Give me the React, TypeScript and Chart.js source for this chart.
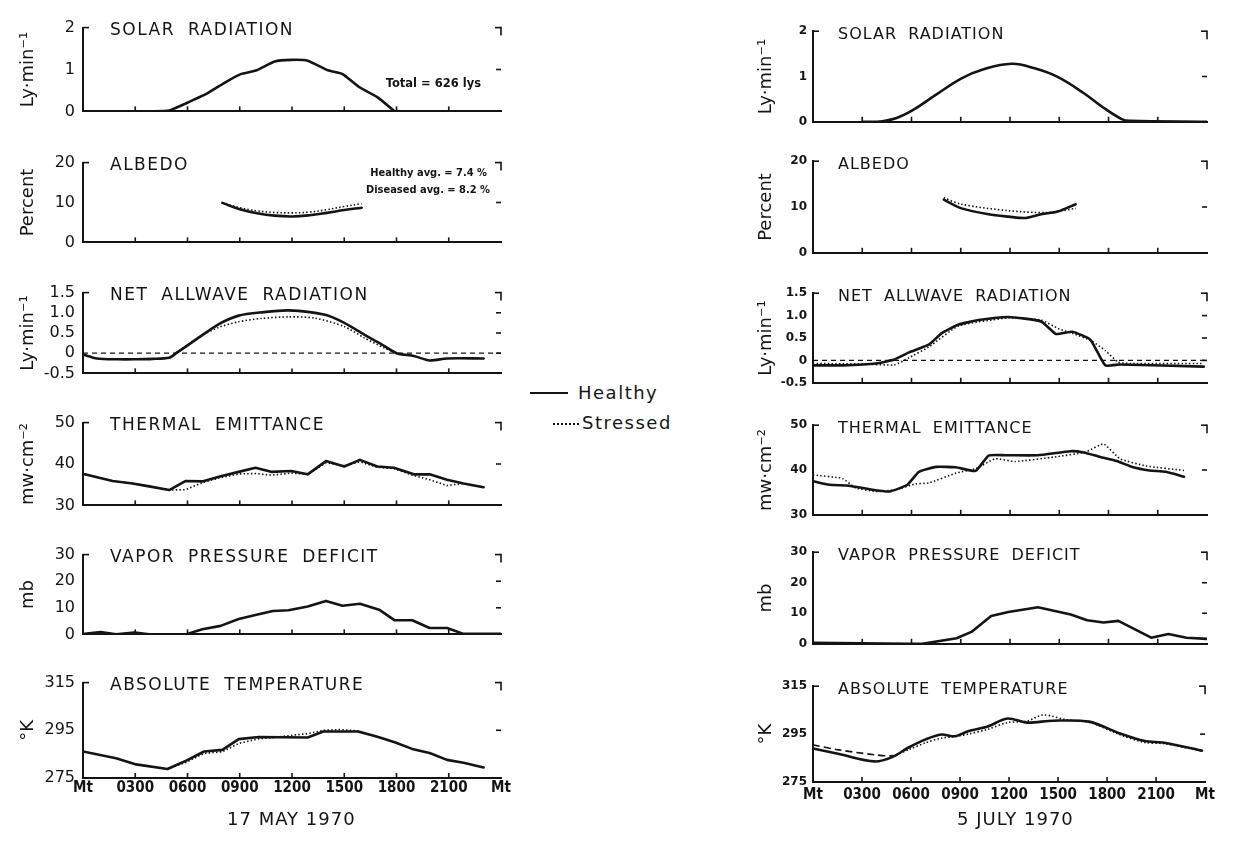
import React, { useEffect, useRef } from "react";
import { Chart, registerables } from "chart.js";
Chart.register(...registerables);

// ---------- axis tick labels ----------
const X_LABELS = ["Mt", "0300", "0600", "0900", "1200", "1500", "1800", "2100", "Mt"];

// ---------- 17 MAY 1970 (left column) ----------
const L_SOLAR_H = [3.8, 4.95, 5.9, 7.05, 8.2, 9.05, 9.97, 11.0, 11.95, 12.9, 14.06, 14.9, 15.9, 16.9, 17.9];
const L_SOLAR = [0, 0.02, 0.19, 0.41, 0.7, 0.89, 0.98, 1.19, 1.23, 1.21, 0.98, 0.89, 0.57, 0.34, 0];

const L_ALB_H = [8, 9, 10, 11, 12, 13, 14, 15, 16];
const L_ALB_HEALTHY = [9.9, 8.3, 7.3, 6.7, 6.5, 6.8, 7.4, 8.1, 8.7];
const L_ALB_STRESSED = [10.0, 8.7, 7.9, 7.5, 7.4, 7.6, 8.2, 9.0, 9.7];

const L_NET_H = [0, 0.8, 2, 3, 4, 4.95, 5.35, 6.66, 7.8, 8.94, 10.25, 11.8, 13.9, 15.0, 16.15, 17.1, 18.0, 19.0, 19.9, 20.9, 23.0];
const L_NET_HEALTHY = [-0.03, -0.13, -0.15, -0.15, -0.14, -0.11, 0, 0.39, 0.72, 0.93, 1.01, 1.06, 0.95, 0.75, 0.46, 0.23, 0, -0.07, -0.18, -0.13, -0.13];
const L_NET_S_H = [5.35, 6.66, 7.8, 8.94, 10.25, 11.8, 13.3, 15.0, 16.15, 17.3, 18.0];
const L_NET_STRESSED = [0, 0.4, 0.64, 0.78, 0.86, 0.9, 0.87, 0.66, 0.38, 0.13, 0];

const L_TE_H = [0.1, 1.7, 2.85, 3.8, 4.95, 5.9, 6.85, 7.8, 8.94, 9.9, 10.8, 11.95, 12.9, 13.95, 15.0, 15.9, 16.9, 17.85, 19.0, 19.9, 20.9, 21.85, 23.0];
const L_TE_HEALTHY = [37.5, 35.9, 35.3, 34.6, 33.7, 35.9, 35.8, 36.9, 38.1, 39.1, 38.1, 38.3, 37.5, 40.7, 39.4, 41.0, 39.4, 39.1, 37.5, 37.5, 36.2, 35.3, 34.4];
const L_TE_STRESSED = [37.5, 35.9, 35.3, 34.6, 33.7, 33.8, 35.5, 36.6, 37.6, 37.7, 37.3, 37.8, 37.5, 40.3, 39.6, 40.5, 39.2, 38.9, 37.2, 36.2, 34.8, 35.3, 34.4];

const L_VPD_H = [0.1, 1.0, 1.9, 2.96, 3.8, 5.9, 6.85, 7.9, 8.94, 9.9, 10.9, 11.8, 12.9, 13.95, 14.9, 15.9, 17.0, 17.9, 18.9, 19.9, 20.9, 21.85, 24];
const L_VPD = [0.2, 0.9, 0, 0.7, 0, 0, 1.9, 3.2, 5.8, 7.3, 8.8, 9.1, 10.5, 12.6, 10.8, 11.5, 9.3, 5.3, 5.3, 2.4, 2.4, 0.2, 0.2];

const L_T_H = [0, 1.9, 3.05, 4.85, 5.9, 6.95, 8.0, 8.94, 10.1, 12.9, 13.8, 15.8, 16.9, 17.9, 18.9, 19.9, 20.9, 21.85, 23.0];
const L_T_HEALTHY = [286.1, 283.3, 280.7, 278.8, 282.2, 286.1, 286.8, 291.3, 292.2, 292.0, 294.5, 294.5, 292.3, 290.0, 287.2, 285.5, 282.6, 281.4, 279.4];
const L_T_S_H = [4.85, 5.9, 6.95, 8.0, 8.94, 10.1, 11.0, 12.0, 12.9, 13.8, 14.8, 15.8, 16.9];
const L_T_STRESSED = [278.8, 281.5, 285.3, 286.0, 289.5, 291.5, 292.0, 292.9, 293.6, 295.0, 295.3, 294.8, 292.4];

// ---------- 5 JULY 1970 (right column) ----------
const R_SOLAR_H = [3.0, 3.9, 5.05, 6.05, 7.5, 9.05, 10.3, 12.1, 13.5, 14.9, 16.5, 17.7, 18.8, 19.3, 24];
const R_SOLAR = [0, 0, 0.08, 0.25, 0.6, 0.96, 1.15, 1.28, 1.18, 0.99, 0.63, 0.31, 0.06, 0.02, 0];

const R_ALB_H = [7.97, 9.05, 10.7, 11.9, 12.97, 13.9, 14.9, 16.0];
const R_ALB_HEALTHY = [11.6, 9.7, 8.4, 7.9, 7.6, 8.4, 9.0, 10.6];
const R_ALB_S_H = [7.97, 9.05, 11.9, 14.3, 16.0];
const R_ALB_STRESSED = [12.0, 10.6, 9.2, 8.8, 9.7];

const R_NET_H = [0, 1.8, 3.85, 4.95, 5.85, 7.05, 7.85, 8.87, 10.1, 11.9, 13.9, 14.8, 15.8, 16.9, 17.8, 18.7, 23.8];
const R_NET_HEALTHY = [-0.11, -0.11, -0.07, 0.02, 0.18, 0.35, 0.61, 0.8, 0.9, 0.97, 0.87, 0.59, 0.64, 0.46, -0.11, -0.09, -0.14];
const R_NET_S_H = [0, 3.0, 4.95, 5.85, 7.05, 8.87, 11.9, 13.9, 15.0, 15.8, 16.9, 17.8, 18.6, 19.3, 23.8];
const R_NET_STRESSED = [-0.07, -0.08, -0.1, 0.06, 0.3, 0.77, 0.95, 0.9, 0.7, 0.6, 0.45, 0.22, -0.04, -0.07, -0.07];

const R_TE_H = [0, 1.0, 2.2, 3.45, 4.65, 5.75, 6.45, 7.5, 8.7, 9.9, 10.7, 11.7, 13.7, 15.7, 16.5, 17.5, 18.5, 19.5, 20.5, 21.5, 22.6];
const R_TE_HEALTHY = [37.5, 36.7, 36.5, 35.7, 35.2, 36.7, 39.6, 40.7, 40.6, 39.8, 43.2, 43.3, 43.3, 44.2, 43.9, 42.9, 42.0, 40.6, 39.9, 39.6, 38.5];
const R_TE_S_H = [0, 1.8, 2.6, 3.85, 5.05, 6.25, 7.05, 8.7, 9.9, 11.1, 12.3, 14.7, 16.6, 17.7, 18.7, 20.3, 22.6];
const R_TE_STRESSED = [38.9, 38.1, 36.0, 35.2, 35.6, 36.9, 37.1, 39.3, 40.3, 42.5, 41.9, 42.9, 44.0, 45.8, 42.5, 40.9, 39.9];

const R_VPD_H = [0, 5.9, 6.65, 8.75, 9.65, 10.85, 11.9, 13.7, 15.7, 16.7, 17.7, 18.6, 20.6, 21.65, 22.75, 24];
const R_VPD = [0.3, 0, 0, 1.8, 3.9, 9.1, 10.4, 12.0, 9.6, 7.7, 7.0, 7.5, 2.0, 3.2, 2.0, 1.6];

const R_T_H = [0, 1.6, 3.75, 4.85, 5.85, 6.9, 7.85, 8.7, 9.5, 10.7, 11.9, 13.1, 14.7, 16.9, 18.7, 20.3, 21.5, 23.8];
const R_T_HEALTHY = [289.0, 286.7, 283.6, 285.4, 289.4, 292.8, 294.8, 294.1, 296.2, 298.2, 301.5, 299.8, 300.6, 300.2, 295.5, 292.1, 291.4, 288.1];
const R_T_S_H = [0, 1.6, 3.75, 4.85, 5.85, 6.9, 7.85, 8.7, 9.5, 10.7, 11.9, 13.1, 14.1, 15.5, 16.9, 18.7, 20.3, 21.5, 23.8];
const R_T_STRESSED = [290.5, 288.4, 286.4, 286.0, 288.5, 291.4, 293.3, 294.0, 295.0, 297.0, 299.8, 300.4, 303.0, 301.0, 300.0, 295.0, 291.5, 291.0, 288.0];

const ZERO_H = [0, 24];
const ZERO_V = [0, 0];

// ---------- panel definitions ----------
type Kind = "healthy" | "stressed" | "zero";
type Series = { h: number[]; v: number[]; kind: Kind };
type Panel = {
  col: "L" | "R";
  title: string;
  unit: string;
  top: number;
  height: number;
  min: number;
  max: number;
  step: number;
  series: Series[];
  xLabels?: boolean;
  tension?: number;
  fmt?: (v: number) => string;
  earlyDash?: boolean;
};

const netFmt = (v: number) => (Math.abs(v) < 1e-9 ? "0" : v.toFixed(1));

const PANELS: Panel[] = [
  { col: "L", title: "SOLAR RADIATION", unit: "Ly·min⁻¹", top: 20, height: 105, min: 0, max: 2, step: 1, tension: 0.15,
    series: [{ h: L_SOLAR_H, v: L_SOLAR, kind: "healthy" }] },
  { col: "L", title: "ALBEDO", unit: "Percent", top: 155, height: 101, min: 0, max: 20, step: 10, tension: 0.4,
    series: [{ h: L_ALB_H, v: L_ALB_HEALTHY, kind: "healthy" }, { h: L_ALB_H, v: L_ALB_STRESSED, kind: "stressed" }] },
  { col: "L", title: "NET ALLWAVE RADIATION", unit: "Ly·min⁻¹", top: 285, height: 102, min: -0.5, max: 1.5, step: 0.5, tension: 0.25, fmt: netFmt,
    series: [{ h: ZERO_H, v: ZERO_V, kind: "zero" }, { h: L_NET_H, v: L_NET_HEALTHY, kind: "healthy" }, { h: L_NET_S_H, v: L_NET_STRESSED, kind: "stressed" }] },
  { col: "L", title: "THERMAL EMITTANCE", unit: "mw·cm⁻²", top: 415, height: 104, min: 30, max: 50, step: 10,
    series: [{ h: L_TE_H, v: L_TE_HEALTHY, kind: "healthy" }, { h: L_TE_H, v: L_TE_STRESSED, kind: "stressed" }] },
  { col: "L", title: "VAPOR PRESSURE DEFICIT", unit: "mb", top: 547, height: 101, min: 0, max: 30, step: 10,
    series: [{ h: L_VPD_H, v: L_VPD, kind: "healthy" }] },
  { col: "L", title: "ABSOLUTE TEMPERATURE", unit: "°K", top: 675, height: 103, min: 275, max: 315, step: 20, xLabels: true,
    series: [{ h: L_T_H, v: L_T_HEALTHY, kind: "healthy" }, { h: L_T_S_H, v: L_T_STRESSED, kind: "stressed" }] },

  { col: "R", title: "SOLAR RADIATION", unit: "Ly·min⁻¹", top: 28, height: 103, min: 0, max: 2, step: 1, tension: 0.4,
    series: [{ h: R_SOLAR_H, v: R_SOLAR, kind: "healthy" }] },
  { col: "R", title: "ALBEDO", unit: "Percent", top: 158, height: 104, min: 0, max: 20, step: 10, tension: 0.3,
    series: [{ h: R_ALB_H, v: R_ALB_HEALTHY, kind: "healthy" }, { h: R_ALB_S_H, v: R_ALB_STRESSED, kind: "stressed" }] },
  { col: "R", title: "NET ALLWAVE RADIATION", unit: "Ly·min⁻¹", top: 290, height: 102, min: -0.5, max: 1.5, step: 0.5, tension: 0.15, fmt: netFmt,
    series: [{ h: ZERO_H, v: ZERO_V, kind: "zero" }, { h: R_NET_H, v: R_NET_HEALTHY, kind: "healthy" }, { h: R_NET_S_H, v: R_NET_STRESSED, kind: "stressed" }] },
  { col: "R", title: "THERMAL EMITTANCE", unit: "mw·cm⁻²", top: 422, height: 102, min: 30, max: 50, step: 10, tension: 0.15,
    series: [{ h: R_TE_H, v: R_TE_HEALTHY, kind: "healthy" }, { h: R_TE_S_H, v: R_TE_STRESSED, kind: "stressed" }] },
  { col: "R", title: "VAPOR PRESSURE DEFICIT", unit: "mb", top: 549, height: 104, min: 0, max: 30, step: 10,
    series: [{ h: R_VPD_H, v: R_VPD, kind: "healthy" }] },
  { col: "R", title: "ABSOLUTE TEMPERATURE", unit: "°K", top: 683, height: 99, min: 275, max: 315, step: 20, xLabels: true, tension: 0.3, earlyDash: true,
    series: [{ h: R_T_H, v: R_T_HEALTHY, kind: "healthy" }, { h: R_T_S_H, v: R_T_STRESSED, kind: "stressed" }] },
];

const COLS = {
  L: { left: 83, width: 418, tickFont: { family: "DejaVu Sans", size: 16, weight: "normal" as const }, tickPad: 8, titlePad: 10,
       titleDx: 27, titleDy: 1, titleSize: 17, titleLS: 1.5, titleWS: 6 },
  R: { left: 813, width: 394, tickFont: { family: "DejaVu Sans", size: 12, weight: "bold" as const }, tickPad: 6, titlePad: 18,
       titleDx: 25, titleDy: -2, titleSize: 16, titleLS: 1, titleWS: 5 },
};

const LW = 75;
const PT = 10;
const PR = 12;
const INK = "#141414";

const marksPlugin = {
  id: "frameMarks",
  afterDraw(chart: any) {
    const { ctx, chartArea } = chart;
    const { left, right, top, bottom } = chartArea;
    const x = chart.scales.x;
    const y = chart.scales.y;
    ctx.save();
    ctx.strokeStyle = INK;
    ctx.lineWidth = 1.6;
    const line = (a: number, b: number, c: number, d: number) => {
      ctx.beginPath();
      ctx.moveTo(a, b);
      ctx.lineTo(c, d);
      ctx.stroke();
    };
    for (let h = 3; h < 24; h += 3) {
      const px = x.getPixelForValue(h);
      line(px, bottom, px, bottom - 5);
    }
    line(left, top, left + 6, top);
    line(right, top, right - 6, top);
    line(right, top - 0.8, right, top + 8);
    y.ticks.forEach((t: any) => {
      if (t.value > y.min && t.value < y.max) {
        const py = y.getPixelForValue(t.value);
        line(right - 5, py, right, py);
      }
    });
    ctx.restore();
  },
};

function PanelChart({ p }: { p: Panel }) {
  const ref = useRef<HTMLCanvasElement>(null);
  const c = COLS[p.col];
  const BH = p.xLabels ? 34 : 4;
  const W = LW + c.width + PR;
  const H = PT + p.height + BH;

  useEffect(() => {
    const datasets = p.series.map((s) => {
      const data = s.h.map((h, i) => ({ x: h, y: s.v[i] }));
      if (s.kind === "zero") {
        return { data, borderColor: INK, borderWidth: 1.2, borderDash: [5, 4], pointRadius: 0, tension: 0, fill: false };
      }
      if (s.kind === "healthy") {
        return { data, borderColor: INK, borderWidth: 2.6, pointRadius: 0, tension: p.tension ?? 0, fill: false, borderCapStyle: "round", borderJoinStyle: "round" };
      }
      const ds: any = { data, borderColor: INK, borderWidth: 1.6, borderDash: [1.5, 2.2], pointRadius: 0, tension: p.tension ?? 0, fill: false };
      if (p.earlyDash) {
        ds.segment = { borderDash: (ctx: any) => (ctx.p0.parsed.x < 4.8 ? [7, 4] : [1.5, 2.2]) };
      }
      return ds;
    });

    const chart = new Chart(ref.current as HTMLCanvasElement, {
      type: "line",
      data: { datasets } as any,
      options: {
        animation: false,
        responsive: false,
        maintainAspectRatio: false,
        layout: { padding: { top: PT, right: PR, left: 0, bottom: 0 } },
        plugins: { legend: { display: false }, tooltip: { enabled: false } },
        scales: {
          x: {
            type: "linear",
            min: 0,
            max: 24,
            afterFit: (s: any) => { s.height = BH; },
            grid: { display: false, drawTicks: false },
            border: { display: true, color: INK, width: 2 },
            ticks: {
              display: !!p.xLabels,
              stepSize: 3,
              autoSkip: false,
              maxRotation: 0,
              padding: p.col === "L" ? 1 : 4,
              color: INK,
              font: { family: "DejaVu Sans Condensed", size: 15, weight: "bold" },
              callback: (v: any) => X_LABELS[Math.round(Number(v) / 3)] ?? "",
            },
          },
          y: {
            type: "linear",
            min: p.min,
            max: p.max,
            afterFit: (s: any) => { s.width = LW; },
            grid: { display: false, drawTicks: false },
            border: { display: true, color: INK, width: 2 },
            ticks: {
              stepSize: p.step,
              padding: c.tickPad,
              color: INK,
              font: c.tickFont,
              callback: (v: any) => (p.fmt ? p.fmt(Number(v)) : String(v)),
            },
            title: {
              display: true,
              text: p.unit,
              color: INK,
              font: { family: "DejaVu Sans", size: 18 },
              padding: { top: c.titlePad, bottom: 0 },
            },
          },
        },
      } as any,
      plugins: [marksPlugin],
    });
    return () => chart.destroy();
  }, []);

  return (
    <canvas
      ref={ref}
      width={W}
      height={H}
      style={{ position: "absolute", left: c.left - LW, top: p.top - PT, width: W, height: H, display: "block" }}
    />
  );
}

const textBase: React.CSSProperties = {
  position: "absolute",
  color: INK,
  fontFamily: "DejaVu Sans",
  whiteSpace: "nowrap",
  lineHeight: 1,
};

export default function App() {
  return (
    <div style={{ position: "absolute", left: 0, top: 0, width: 1241, height: 842, background: "#fff", overflow: "hidden" }}>
      {PANELS.map((p, i) => (
        <PanelChart key={i} p={p} />
      ))}
      {PANELS.map((p, i) => {
        const c = COLS[p.col];
        return (
          <div
            key={"t" + i}
            style={{
              ...textBase,
              left: c.left + c.titleDx,
              top: p.top + c.titleDy,
              fontSize: c.titleSize,
              letterSpacing: c.titleLS,
              wordSpacing: c.titleWS,
              lineHeight: c.titleSize + "px",
            }}
          >
            {p.title}
          </div>
        );
      })}

      <div style={{ ...textBase, right: 1241 - 481, top: 78, fontSize: 11.5, fontWeight: "bold" }}>Total = 626 lys</div>
      <div style={{ ...textBase, right: 1241 - 487, top: 167, fontSize: 11, fontWeight: "bold", fontFamily: "DejaVu Sans Condensed" }}>Healthy avg. = 7.4 %</div>
      <div style={{ ...textBase, right: 1241 - 490, top: 184, fontSize: 11, fontWeight: "bold", fontFamily: "DejaVu Sans Condensed" }}>Diseased avg. = 8.2 %</div>

      <div style={{ position: "absolute", left: 530, top: 392, width: 38, height: 0, borderTop: `2.5px solid ${INK}` }} />
      <div style={{ ...textBase, left: 578, top: 384, fontSize: 18, letterSpacing: 1.5 }}>Healthy</div>
      <div style={{ position: "absolute", left: 553, top: 423, width: 26, height: 0, borderTop: `2px dotted ${INK}` }} />
      <div style={{ ...textBase, left: 582, top: 414, fontSize: 18, letterSpacing: 1.5 }}>Stressed</div>

      <div style={{ ...textBase, left: 227, top: 810, fontSize: 18, letterSpacing: 1 }}>17 MAY 1970</div>
      <div style={{ ...textBase, left: 957, top: 810, fontSize: 18, letterSpacing: 1 }}>5 JULY 1970</div>
    </div>
  );
}
